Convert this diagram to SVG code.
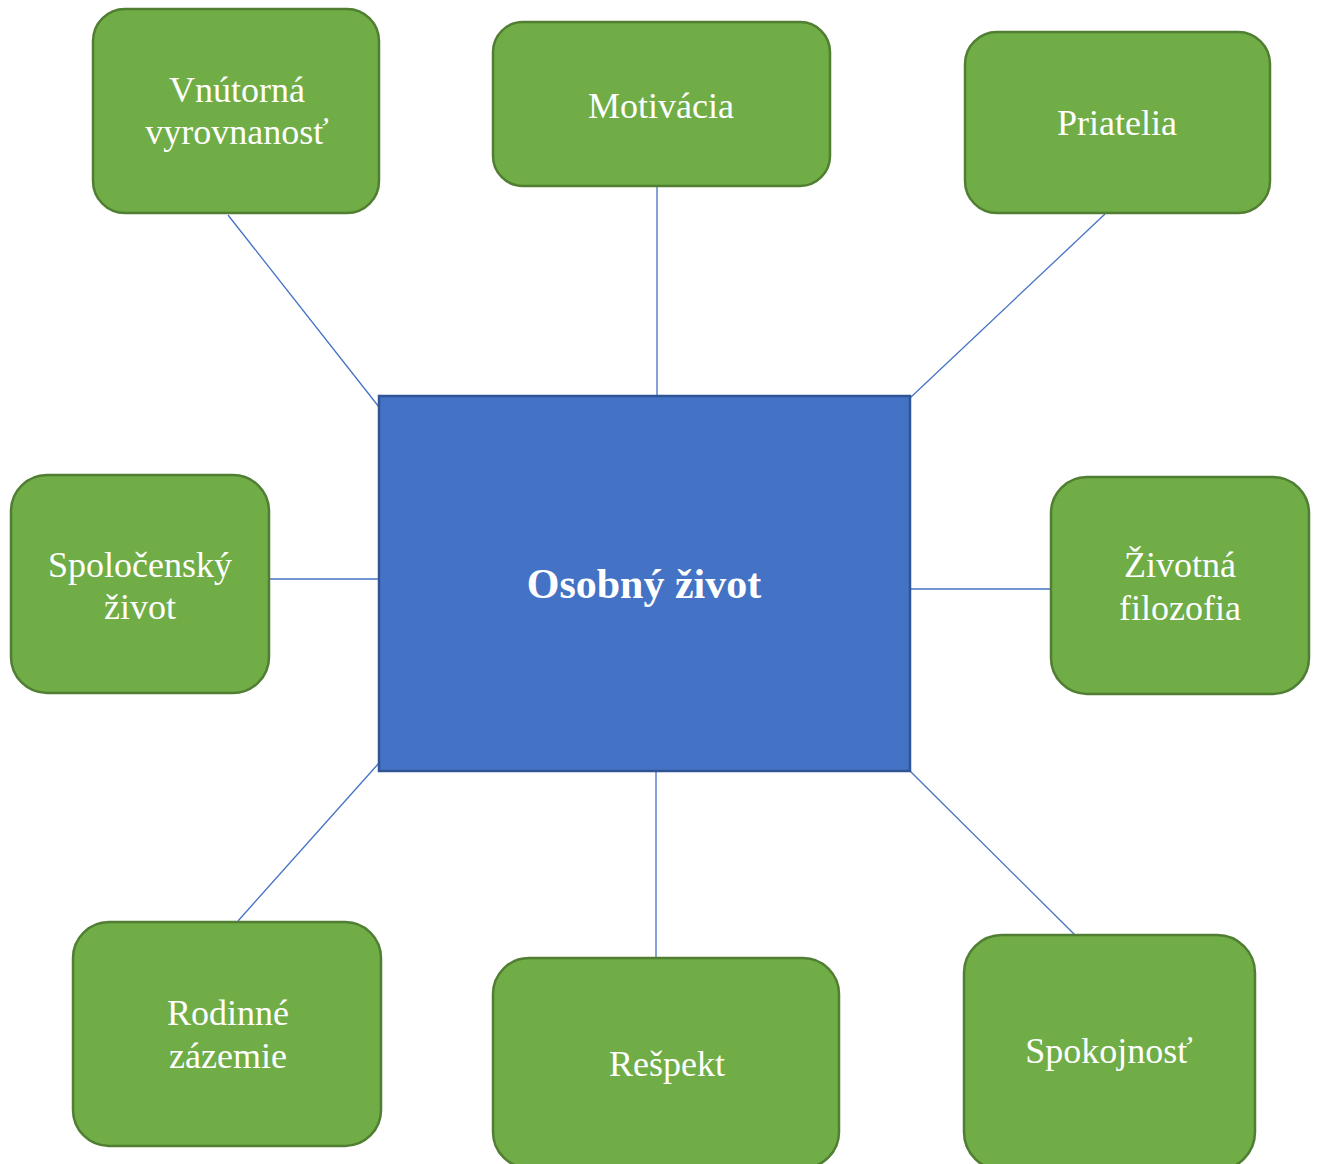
<svg xmlns="http://www.w3.org/2000/svg" width="1318" height="1164" viewBox="0 0 1318 1164">
<style>
.leaf{fill:#70AD47;stroke:#507E32;stroke-width:2.5}
.hub{fill:#4472C4;stroke:#2F5597;stroke-width:2.5}
.t{font-family:"Liberation Serif","Times New Roman",serif;font-size:36px;fill:#FFFFFF;text-anchor:middle}
.tb{font-family:"Liberation Serif","Times New Roman",serif;font-size:42px;font-weight:bold;fill:#FFFFFF;text-anchor:middle}
.c{stroke:#4472C4;stroke-width:1.3;fill:none}
</style>
<rect width="1318" height="1164" fill="#FFFFFF"/>
<g id="connectors">
<line class="c" x1="228" y1="215" x2="379" y2="407"/>
<line class="c" x1="657" y1="186" x2="657" y2="396"/>
<line class="c" x1="1105" y1="214" x2="910" y2="398"/>
<line class="c" x1="270" y1="579" x2="379" y2="579"/>
<line class="c" x1="910" y1="589" x2="1051" y2="589"/>
<line class="c" x1="238" y1="921" x2="379" y2="763"/>
<line class="c" x1="656" y1="771" x2="656" y2="958"/>
<line class="c" x1="910" y1="771" x2="1075" y2="935"/>
</g>
<g id="center">
<rect class="hub" x="379" y="396" width="531" height="375"/>
<text class="tb" x="644" y="598">Osobný život</text>
</g>
<g id="n-vnutorna">
<rect class="leaf" x="93" y="9" width="286" height="204" rx="32"/>
<text class="t" x="237" y="102">Vnútorná</text>
<text class="t" x="237" y="144">vyrovnanosť</text>
</g>
<g id="n-motivacia">
<rect class="leaf" x="493" y="22" width="337" height="164" rx="30"/>
<text class="t" x="661" y="118">Motivácia</text>
</g>
<g id="n-priatelia">
<rect class="leaf" x="965" y="32" width="305" height="181" rx="32"/>
<text class="t" x="1117" y="135">Priatelia</text>
</g>
<g id="n-spolocensky">
<rect class="leaf" x="11" y="475" width="258" height="218" rx="36"/>
<text class="t" x="140" y="577">Spoločenský</text>
<text class="t" x="140" y="619">život</text>
</g>
<g id="n-zivotna">
<rect class="leaf" x="1051" y="477" width="258" height="217" rx="36"/>
<text class="t" x="1180" y="577">Životná</text>
<text class="t" x="1180" y="620">filozofia</text>
</g>
<g id="n-rodinne">
<rect class="leaf" x="73" y="922" width="308" height="224" rx="36"/>
<text class="t" x="228" y="1025">Rodinné</text>
<text class="t" x="228" y="1068">zázemie</text>
</g>
<g id="n-respekt">
<rect class="leaf" x="493" y="958" width="346" height="210" rx="36"/>
<text class="t" x="667" y="1076">Rešpekt</text>
</g>
<g id="n-spokojnost">
<rect class="leaf" x="964" y="935" width="291" height="235" rx="38"/>
<text class="t" x="1109" y="1063">Spokojnosť</text>
</g>
</svg>
